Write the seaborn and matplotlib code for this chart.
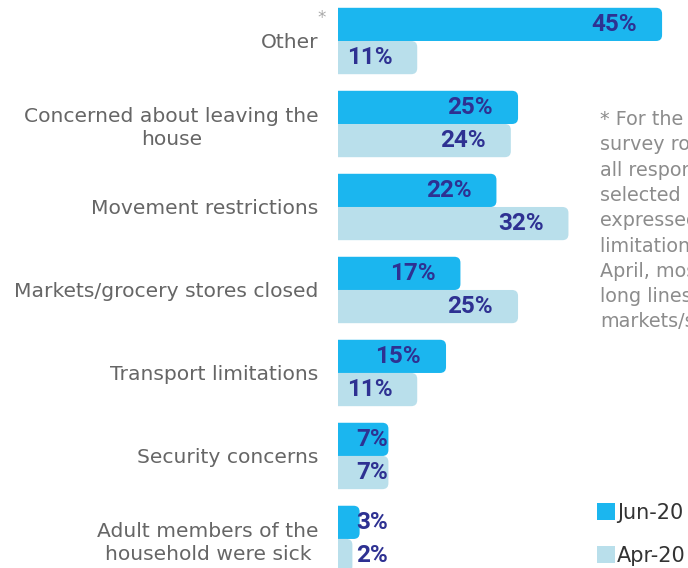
import matplotlib
matplotlib.use("Agg")
import matplotlib.pyplot as plt
from matplotlib.patches import FancyBboxPatch
import seaborn as sns
import pandas as pd

categories = [
    "Other",
    "Concerned about leaving the\nhouse",
    "Movement restrictions",
    "Markets/grocery stores closed",
    "Transport limitations",
    "Security concerns",
    "Adult members of the\nhousehold were sick",
]
jun_20 = [45, 25, 22, 17, 15, 7, 3]
apr_20 = [11, 24, 32, 25, 11, 7, 2]
periods = ["Jun-20", "Apr-20"]

footnote = ("* For the June 2020\n"
            "survey round, nearly\n"
            "all respondents who\n"
            "selected \u201cOther\u201d\n"
            "expressed movement\n"
            "limitations. In\n"
            "April, most cited\n"
            "long lines at\n"
            "markets/stores.")

JUN_COLOR = "#1bb6ef"
APR_COLOR = "#b9dfeb"
LABEL_COLOR = "#2e3192"
GREY = "#666666"

df = pd.DataFrame({
    "category": categories * 2,
    "pct": jun_20 + apr_20,
    "period": [periods[0]] * len(categories) + [periods[1]] * len(categories),
})

sns.set_style("white")
plt.rcParams["font.family"] = ["DejaVu Sans"]

fig = plt.figure(figsize=(6.88, 5.68), dpi=100)
ax = fig.add_axes([338 / 688, 0, 1 - 338 / 688, 1])

sns.barplot(data=df, y="category", x="pct", hue="period", orient="h",
            palette=[JUN_COLOR, APR_COLOR], saturation=1, width=0.8,
            legend=False, ax=ax)

ax.set_xlim(0, 48.6)
ax.set_ylim(6.35, -0.494)

# swap square bars for ones with rounded right ends
px_x = 350 / 48.6
px_y = 568 / (6.35 + 0.494)
r = 6 / px_x
for cont in ax.containers:
    for bar in cont:
        x, y = bar.get_x(), bar.get_y()
        w, h = bar.get_width(), bar.get_height()
        col = bar.get_facecolor()
        bar.set_visible(False)
        ax.add_patch(FancyBboxPatch((x - r, y), w + r, h,
                                    boxstyle=f"round,pad=0,rounding_size={r}",
                                    mutation_aspect=(6 / px_y) / r,
                                    facecolor=col, edgecolor="none",
                                    clip_on=True))
        xt = max(w - 25 / px_x, 50 / px_x)
        ax.text(xt, y + h / 2, f"{int(w)}%", ha="right", va="center",
                fontsize=17.5, fontweight="bold", color=LABEL_COLOR,
                family="Roboto")

for s in ax.spines.values():
    s.set_visible(False)
ax.set_xticks([])
ax.set_xlabel("")
ax.set_ylabel("")
ax.tick_params(axis="y", length=0, pad=14, labelsize=14.6, labelcolor=GREY)
for t in ax.get_yticklabels():
    t.set_multialignment("center")
    t.set_linespacing(1.3)

fig.text(322 / 688, 1 - 18 / 568, "*", ha="center", va="center",
         fontsize=12, color="#a8a8a8")

fig.text(600 / 688, 1 - 110 / 568, footnote, ha="left", va="top",
         fontsize=13.8, color="#8c8c8c", linespacing=1.42)

handles = [FancyBboxPatch((0, 0), 1, 1, facecolor=JUN_COLOR, edgecolor="none"),
           FancyBboxPatch((0, 0), 1, 1, facecolor=APR_COLOR, edgecolor="none")]
fig.legend(handles, periods, loc="upper left",
           bbox_to_anchor=(597 / 688, 1 - 503 / 568), frameon=False,
           borderpad=0, borderaxespad=0,
           handlelength=0.85, handleheight=0.85, handletextpad=0.1,
           labelspacing=1.1, fontsize=15, labelcolor="#333333")

fig.savefig("out.png", dpi=100)
